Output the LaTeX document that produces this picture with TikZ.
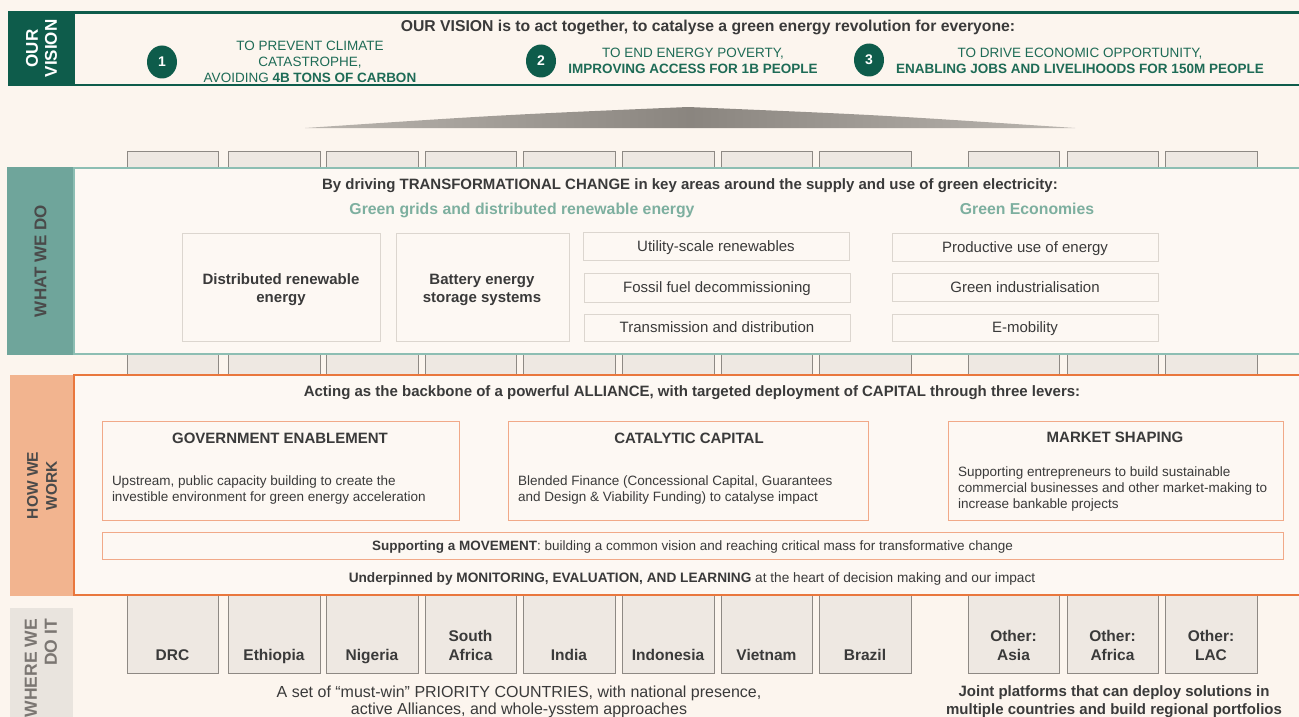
\documentclass[tikz,border=0pt]{standalone}
\usepackage{fontspec}
\setmainfont{Liberation Sans}
\usetikzlibrary{shapes.geometric}
\definecolor{bg}{HTML}{FCF5EE}
\definecolor{boxbg}{HTML}{FDF8F3}
\definecolor{dkgreen}{HTML}{0E5C4B}
\definecolor{vtext}{HTML}{1E6B56}
\definecolor{tealfill}{HTML}{6FA59B}
\definecolor{tealline}{HTML}{8DBEB3}
\definecolor{tealtext}{HTML}{7DAF9F}
\definecolor{orfill}{HTML}{F2B48F}
\definecolor{orline}{HTML}{E9773D}
\definecolor{orbox}{HTML}{F1A988}
\definecolor{colfill}{HTML}{EEE8E2}
\definecolor{colline}{HTML}{8E8984}
\definecolor{boxline}{HTML}{DCD6CF}
\definecolor{txt}{HTML}{3A3A3A}
\definecolor{labtxt}{HTML}{4A4A4A}
\definecolor{whfill}{HTML}{E9E4DE}
\definecolor{whtext}{HTML}{7B7672}
\definecolor{roofm}{HTML}{8A857F}
\definecolor{roofl}{HTML}{BAB5AF}
\begin{document}
\begin{tikzpicture}[x=1pt,y=-1pt,
  every node/.style={inner sep=0pt, outer sep=0pt, text=txt},
  colbox/.style={draw=colline, fill=colfill, line width=0.9pt, anchor=north west},
  labbox/.style={anchor=north west},
  labtext/.style={font=\bfseries\fontsize{17}{19}\selectfont, rotate=90, align=center},
  maintitle/.style={font=\bfseries\fontsize{15}{18}\selectfont, anchor=base},
  vt/.style={font=\fontsize{13.5}{16}\selectfont, text=vtext, align=center, anchor=south, text depth=0pt},
  circ/.style={ellipse, fill=dkgreen, minimum width=30, minimum height=33, text=white, font=\bfseries\fontsize{14}{16}\selectfont},
  subhead/.style={font=\bfseries\fontsize{15.8}{18}\selectfont, text=tealtext, anchor=base},
  bx/.style={draw=boxline, line width=1pt, anchor=north west},
  bxone/.style={bx, font=\fontsize{15}{18}\selectfont, text height=10.7pt, text depth=0pt},
  bxbold/.style={font=\bfseries\fontsize{15}{18}\selectfont, align=center, anchor=south, text depth=0pt},
  obx/.style={draw=orbox, line width=1pt, anchor=north west},
  otitle/.style={font=\bfseries\fontsize{15}{18}\selectfont, anchor=base},
  obody/.style={font=\fontsize{13.5}{16}\selectfont, align=left, anchor=south west, text depth=0pt},
  ctext/.style={font=\bfseries\fontsize{15.5}{19}\selectfont, align=center, anchor=south, text depth=0pt}
]
\fill[bg] (0,0) rectangle (1299,717);
\useasboundingbox (0,0) rectangle (1299,717);

% ---------------- OUR VISION ----------------
\node[labbox, fill=dkgreen, minimum width=67, minimum height=75] (vlab) at (8,11) {};
\node[labtext, text=white] (vlabt) at (vlab.center) {OUR\\VISION};
\draw[dkgreen, line width=2.5pt] (75,12.5) -- (1305,12.5);
\draw[dkgreen, line width=2.5pt] (75,85) -- (1305,85);
\node[maintitle, font=\bfseries\fontsize{15.75}{18}\selectfont] (vtitle) at (708,32) {OUR VISION is to act together, to catalyse a green energy revolution for everyone:};
\node[circ] (c1) at (162,62) {1};
\node[circ] (c2) at (541,61) {2};
\node[circ] (c3) at (869,60) {3};
\node[vt] (v1) at (310,82) {TO PREVENT CLIMATE\\CATASTROPHE,\\AVOIDING \textbf{4B TONS OF CARBON}};
\node[vt] (v2) at (693,74) {TO END ENERGY POVERTY,\\\textbf{IMPROVING ACCESS FOR 1B PEOPLE}};
\node[vt] (v3) at (1080,74) {TO DRIVE ECONOMIC OPPORTUNITY,\\\textbf{ENABLING JOBS AND LIVELIHOODS FOR 150M PEOPLE}};

% ---------------- roof ----------------
\shade[left color=roofl, right color=roofl, middle color=roofm] (305,128) .. controls (500,115) .. (688,107) .. controls (880,115) .. (1075,128) -- cycle;

% ---------------- columns ----------------
\foreach \i/\x/\w in {1/127/91,2/228/92,3/326/92,4/425/91,5/523/92,6/622/92,7/721/91,8/819/92,9/968/91,10/1067/91,11/1165/92}{
  \node[colbox, minimum width=\w, minimum height=22] (top\i) at (\x,151) {};
  \node[colbox, minimum width=\w, minimum height=30] (mid\i) at (\x,350) {};
}
\foreach \i/\x/\w/\t in {1/127/91/DRC,2/228/92/Ethiopia,3/326/92/Nigeria,4/425/91/{South\\Africa},5/523/92/India,6/622/92/Indonesia,7/721/91/Vietnam,8/819/92/Brazil,9/968/91/{Other:\\Asia},10/1067/91/{Other:\\Africa},11/1165/92/{Other:\\LAC}}{
  \node[colbox, minimum width=\w, minimum height=81] (cty\i) at (\x,592) {};
  \node[ctext] (ctyt\i) at ({\x+\w/2},660) {\t};
}

% ---------------- WHAT WE DO ----------------
\node[labbox, fill=tealfill, minimum width=67, minimum height=188] (wlab) at (7,167) {};
\node[labtext, text=labtxt] (wlabt) at (wlab.center) {WHAT WE DO};
\node[draw=tealline, line width=2.2pt, fill=boxbg, anchor=north west, minimum width=1240, minimum height=186] (what) at (74,168) {};
\node[maintitle] (wtitle) at (690,189) {By driving TRANSFORMATIONAL CHANGE in key areas around the supply and use of green electricity:};
\node[subhead] (sub1) at (522,214) {Green grids and distributed renewable energy};
\node[subhead] (sub2) at (1027,214) {Green Economies};
\node[bx, minimum width=198, minimum height=108] (dre) at (182,233) {};
\node[bxbold] (dret) at (281,302) {Distributed renewable\\energy};
\node[bx, minimum width=173, minimum height=108] (bess) at (396,233) {};
\node[bxbold] (besst) at (482,302) {Battery energy\\storage systems};
\node[bxone, minimum width=266, minimum height=28] (util) at (583,232) {Utility-scale renewables};
\node[bxone, minimum width=266, minimum height=29] (fossil) at (584,273) {Fossil fuel decommissioning};
\node[bxone, minimum width=266, minimum height=27] (trans) at (584,314) {Transmission and distribution};
\node[bxone, minimum width=266, minimum height=28] (prod) at (892,233) {Productive use of energy};
\node[bxone, minimum width=266, minimum height=28] (gind) at (892,273) {Green industrialisation};
\node[bxone, minimum width=266, minimum height=27] (emob) at (892,314) {E-mobility};

% ---------------- HOW WE WORK ----------------
\node[labbox, fill=orfill, minimum width=64, minimum height=221] (hlab) at (10,375) {};
\node[labtext, text=labtxt, font=\bfseries\fontsize{15.5}{19}\selectfont] (hlabt) at (hlab.center) {HOW WE\\WORK};
\node[draw=orline, line width=2.2pt, fill=boxbg, anchor=north west, minimum width=1240, minimum height=220] (how) at (74,375) {};
\node[maintitle] (htitle) at (692,396) {Acting as the backbone of a powerful ALLIANCE, with targeted deployment of CAPITAL through three levers:};
\node[obx, minimum width=357, minimum height=99] (ge) at (102,421) {};
\node[otitle] (get) at (280,443) {GOVERNMENT ENABLEMENT};
\node[obody] (geb) at (112,501) {Upstream, public capacity building to create the\\investible environment for green energy acceleration};
\node[obx, minimum width=360, minimum height=99] (cc) at (508,421) {};
\node[otitle] (cct) at (689,443) {CATALYTIC CAPITAL};
\node[obody] (ccb) at (518,501) {Blended Finance (Concessional Capital, Guarantees\\and Design \& Viability Funding) to catalyse impact};
\node[obx, minimum width=335, minimum height=99] (ms) at (948,421) {};
\node[otitle] (mst) at (1115,442) {MARKET SHAPING};
\node[obody] (msb) at (958,508) {Supporting entrepreneurs to build sustainable\\commercial businesses and other market-making to\\increase bankable projects};
\node[obx, minimum width=1181, minimum height=27, font=\fontsize{13.5}{16}\selectfont, text height=9.7pt, text depth=0pt] (mov) at (102,532) {\textbf{Supporting a MOVEMENT}: building a common vision and reaching critical mass for transformative change};
\node[font=\fontsize{13.65}{16}\selectfont, anchor=base] (mel) at (692,582) {\textbf{Underpinned by MONITORING, EVALUATION, AND LEARNING} at the heart of decision making and our impact};

% ---------------- WHERE WE DO IT ----------------
\node[labbox, fill=whfill, minimum width=63, minimum height=115] (wwlab) at (10,608) {};
\node[labtext, text=whtext, align=right, anchor=east, font=\bfseries\fontsize{17.5}{20}\selectfont] (wwlabt) at (41,619) {WHERE WE\\DO IT};
\node[font=\fontsize{16}{17}\selectfont, align=center, anchor=south, text depth=0pt] (cap1) at (519,714) {A set of “must-win” PRIORITY COUNTRIES, with national presence,\\active Alliances, and whole-ysstem approaches};
\node[font=\bfseries\fontsize{15}{18}\selectfont, align=center, anchor=south, text depth=0pt] (cap2) at (1114,714) {Joint platforms that can deploy solutions in\\multiple countries and build regional portfolios};
\end{tikzpicture}
\end{document}
